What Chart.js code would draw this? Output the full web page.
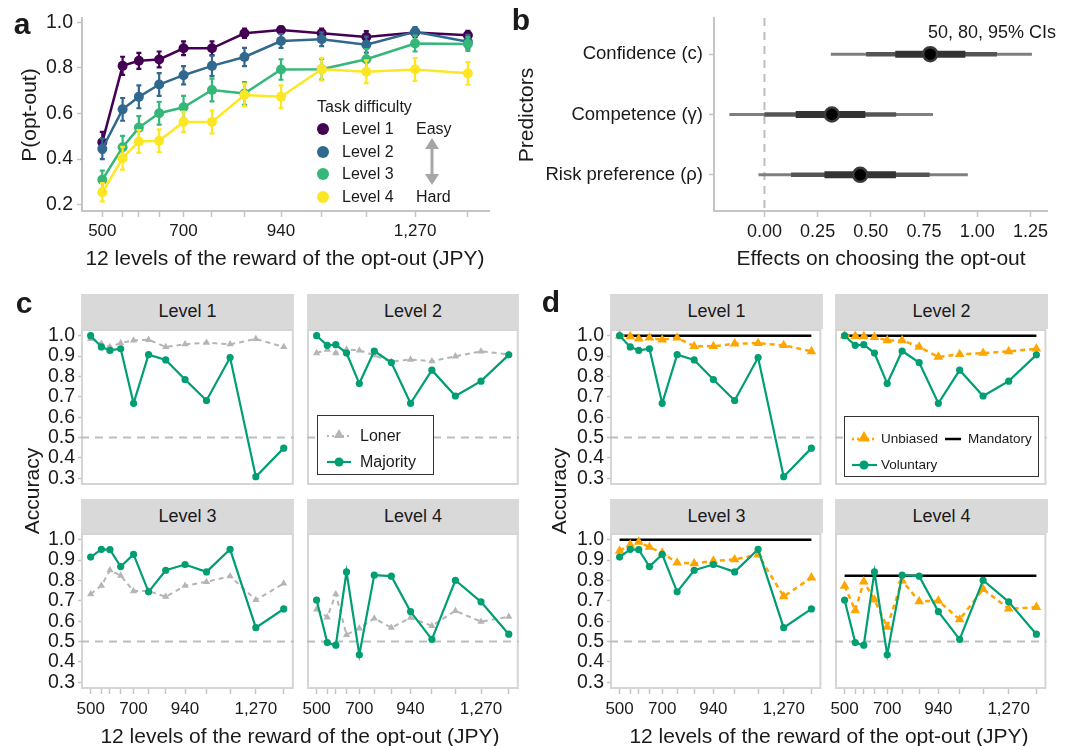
<!DOCTYPE html>
<html>
<head>
<meta charset="utf-8">
<script src="https://cdn.jsdelivr.net/npm/chart.js@4.4.1/dist/chart.umd.min.js"></script>
<style>
  body { margin: 0; background: #fff; }
  #fig { position: relative; width: 1073px; height: 746px; overflow: hidden;
         font-family: 'Liberation Sans', Arial, Helvetica, sans-serif; color: #1a1a1a; }
  #fig canvas { position: absolute; }
  #fig svg { position: absolute; left: 0; top: 0; }
  .t { position: absolute; white-space: nowrap; line-height: 1; }
  .strip { position: absolute; background: #d9d9d9; font-size: 18px; display: flex;
           align-items: center; justify-content: center; }
</style>
</head>
<body>
<div id="fig"></div>
<script>
// ---- data ----
const rewards = [500, 550, 590, 640, 700, 770, 850, 940, 1040, 1150, 1270, 1400];
const rewardLabels = [500, 700, 940, 1270];
const levels = ['Level 1', 'Level 2', 'Level 3', 'Level 4'];
const levelColors = ['#440154', '#31688E', '#35B779', '#FDE725'];

// panel a: P(opt-out) by task difficulty
const optOut1 = [0.474, 0.809, 0.831, 0.837, 0.886, 0.886, 0.952, 0.966, 0.952, 0.936, 0.955, 0.943];
const optOut2 = [0.445, 0.618, 0.673, 0.727, 0.768, 0.809, 0.848, 0.918, 0.926, 0.902, 0.959, 0.915];
const optOut3 = [0.309, 0.452, 0.538, 0.601, 0.627, 0.703, 0.688, 0.793, 0.794, 0.838, 0.907, 0.905];
const optOut4 = [0.254, 0.404, 0.477, 0.480, 0.563, 0.563, 0.681, 0.673, 0.794, 0.783, 0.793, 0.776];
const optOutErr1 = [0.045, 0.04, 0.035, 0.035, 0.03, 0.03, 0.02, 0.015, 0.02, 0.025, 0.02, 0.02];
const optOutErr2 = [0.045, 0.05, 0.05, 0.05, 0.04, 0.045, 0.04, 0.03, 0.03, 0.035, 0.02, 0.03];
const optOutErr3 = [0.04, 0.05, 0.05, 0.05, 0.05, 0.05, 0.05, 0.045, 0.045, 0.045, 0.035, 0.03];
const optOutErr4 = [0.04, 0.05, 0.05, 0.05, 0.045, 0.05, 0.05, 0.05, 0.05, 0.05, 0.05, 0.05];
const optOutTicks = [0.2, 0.4, 0.6, 0.8, 1.0];

// panel b: posterior effects with 50/80/95% intervals
const predictors = ['Confidence (c)', 'Competence (\u03b3)', 'Risk preference (\u03c1)'];
const effectMedian = [0.779, 0.317, 0.45];
const ci50Low = [0.615, 0.147, 0.282];
const ci50High = [0.944, 0.474, 0.618];
const ci80Low = [0.478, 0.0, 0.125];
const ci80High = [1.093, 0.619, 0.776];
const ci95Low = [0.312, -0.165, -0.028];
const ci95High = [1.257, 0.792, 0.956];
const effectTicks = [0, 0.25, 0.5, 0.75, 1.0, 1.25];

// panels c, d: accuracy
const majority = [
  [1.0, 0.945, 0.928, 0.936, 0.668, 0.907, 0.881, 0.785, 0.682, 0.893, 0.308, 0.448],
  [1.0, 0.953, 0.956, 0.915, 0.765, 0.925, 0.868, 0.668, 0.831, 0.704, 0.777, 0.906],
  [0.915, 0.953, 0.951, 0.868, 0.928, 0.744, 0.850, 0.878, 0.842, 0.953, 0.568, 0.660],
  [0.704, 0.495, 0.482, 0.842, 0.435, 0.826, 0.821, 0.647, 0.511, 0.801, 0.695, 0.536]
];
const loner = [
  [0.985, 0.961, 0.945, 0.964, 0.977, 0.980, 0.945, 0.958, 0.966, 0.958, 0.984, 0.945],
  [0.915, 0.932, 0.915, 0.933, 0.928, 0.904, 0.873, 0.883, 0.875, 0.899, 0.923, 0.909],
  [0.733, 0.774, 0.850, 0.824, 0.748, 0.748, 0.720, 0.774, 0.793, 0.821, 0.704, 0.785],
  [0.658, 0.619, 0.733, 0.533, 0.565, 0.614, 0.568, 0.617, 0.577, 0.651, 0.598, 0.622]
];
const voluntary = majority;
const unbiased = [
  [1.0, 0.997, 0.985, 0.990, 0.980, 0.990, 0.948, 0.948, 0.961, 0.963, 0.953, 0.923],
  [1.0, 0.998, 0.997, 0.993, 0.977, 0.977, 0.945, 0.896, 0.909, 0.915, 0.923, 0.936],
  [0.945, 0.976, 0.989, 0.964, 0.935, 0.887, 0.883, 0.896, 0.903, 0.927, 0.721, 0.814],
  [0.773, 0.653, 0.794, 0.705, 0.572, 0.799, 0.697, 0.700, 0.608, 0.757, 0.661, 0.669]
];
const mandatory = [1.0, 1.0, 1.0, 0.823];
const accTicks = [0.3, 0.4, 0.5, 0.6, 0.7, 0.8, 0.9, 1.0];
const chance = 0.5;

const GREEN = '#009E73', ORANGE = '#FFA500', LONER = '#b5b5b5', AXIS = '#c4c4c4';

// ---- helpers ----
const fig = document.getElementById('fig');
Chart.defaults.font.family = "'Liberation Sans', Arial, Helvetica, sans-serif";
Chart.defaults.color = '#1a1a1a';

function text(str, x, y, o) {
  o = o || {};
  const d = document.createElement('div');
  d.className = 't';
  d.textContent = str;
  d.style.left = x + 'px';
  d.style.top = y + 'px';
  d.style.fontSize = (o.size || 16) + 'px';
  if (o.bold) d.style.fontWeight = 'bold';
  let tr = o.anchor === 'left' ? 'translate(0,-50%)' : 'translate(-50%,-50%)';
  if (o.rot) tr += ' rotate(-90deg)';
  d.style.transform = tr;
  fig.appendChild(d);
}

function strip(label, l, t, r, b) {
  const d = document.createElement('div');
  d.className = 'strip';
  d.textContent = label;
  Object.assign(d.style, { left: l + 'px', top: t + 'px', width: (r - l) + 'px', height: (b - t) + 'px' });
  fig.appendChild(d);
}

// area = [left, top, right, bottom] of the plot panel; m = [left, top, right, bottom] margins
function addChart(area, m, cfg) {
  const cv = document.createElement('canvas');
  const w = area[2] - area[0] + m[0] + m[2];
  const h = area[3] - area[1] + m[1] + m[3];
  cv.width = w; cv.height = h;
  Object.assign(cv.style, { left: (area[0] - m[0]) + 'px', top: (area[1] - m[1]) + 'px', width: w + 'px', height: h + 'px' });
  fig.appendChild(cv);
  const o = cfg.options;
  o.responsive = false; o.animation = false; o.devicePixelRatio = 1; o.events = [];
  o.layout = { padding: { left: 0, top: m[1], right: m[2], bottom: 0 } };
  o.scales.y.afterFit = s => { s.width = m[0]; };
  o.scales.x.afterFit = s => { s.height = m[3]; };
  o.plugins = Object.assign({ legend: { display: false }, tooltip: { enabled: false } }, o.plugins);
  return new Chart(cv, cfg);
}

// dashed reference line through the scale
const refLine = {
  id: 'refLine',
  beforeDatasetsDraw(chart, args, opts) {
    if (opts.value === undefined) return;
    const { ctx, chartArea: a } = chart;
    ctx.save();
    ctx.strokeStyle = '#bdbdbd'; ctx.lineWidth = 2; ctx.setLineDash([8, 6]);
    ctx.beginPath();
    if (opts.axis === 'x') {
      const px = chart.scales.x.getPixelForValue(opts.value);
      ctx.moveTo(px, a.top); ctx.lineTo(px, a.bottom);
    } else {
      const py = chart.scales.y.getPixelForValue(opts.value);
      ctx.moveTo(a.left, py); ctx.lineTo(a.right, py);
    }
    ctx.stroke();
    ctx.restore();
  }
};

// facet panel frame
const frame = {
  id: 'frame',
  beforeDatasetsDraw(chart, args, opts) {
    if (!opts.on) return;
    const { ctx, chartArea: a } = chart;
    ctx.save();
    ctx.strokeStyle = '#d5d5d5'; ctx.lineWidth = 2;
    ctx.strokeRect(a.left + 1, a.top + 1, a.right - a.left - 2, a.bottom - a.top - 2);
    ctx.restore();
  }
};

// error bars, drawn just before their own dataset
const errBars = {
  id: 'errBars',
  beforeDatasetDraw(chart, args) {
    const ds = chart.data.datasets[args.index];
    if (!ds.err) return;
    const { ctx } = chart;
    const xs = chart.scales.x, ys = chart.scales.y;
    ctx.save();
    ctx.strokeStyle = ds.borderColor; ctx.lineWidth = 2.2;
    ds.data.forEach((p, i) => {
      const px = xs.getPixelForValue(p.x);
      const lo = ys.getPixelForValue(p.y - ds.err[i]), hi = ys.getPixelForValue(p.y + ds.err[i]);
      ctx.beginPath();
      ctx.moveTo(px, lo); ctx.lineTo(px, hi);
      ctx.moveTo(px - 2.5, lo); ctx.lineTo(px + 2.5, lo);
      ctx.moveTo(px - 2.5, hi); ctx.lineTo(px + 2.5, hi);
      ctx.stroke();
    });
    ctx.restore();
  }
};

function rewardAxis(min, max, show, tickLen, pad) {
  return {
    type: 'linear', min: min, max: max,
    afterBuildTicks: s => { s.ticks = rewards.map(v => ({ value: v })); },
    ticks: { display: show, autoSkip: false, maxRotation: 0, padding: pad, font: { size: 17 },
             callback: v => rewardLabels.includes(v) ? v.toLocaleString('en-US') : '' },
    grid: { display: show, drawOnChartArea: false, drawTicks: true, tickLength: tickLen, tickColor: AXIS, tickWidth: 1.5 },
    border: { display: false }
  };
}

function accAxis(show) {
  return {
    type: 'linear', min: 0.267, max: 1.033,
    afterBuildTicks: s => { s.ticks = accTicks.map(v => ({ value: v })); },
    ticks: { display: show, autoSkip: false, padding: 3, font: { size: 19.5 }, callback: v => v.toFixed(1) },
    grid: { display: show, drawOnChartArea: false, drawTicks: true, tickLength: 3, tickColor: AXIS, tickWidth: 1.5 },
    border: { display: false }
  };
}

const pts = arr => arr.map((v, i) => ({ x: rewards[i], y: v }));

// ---- panel a ----
const optOut = [optOut1, optOut2, optOut3, optOut4];
const optOutErr = [optOutErr1, optOutErr2, optOutErr3, optOutErr4];
const aAxisX = rewardAxis(450, 1452, true, 6, 4);
aAxisX.border = { display: true, color: AXIS, width: 2 };
addChart([82, 18, 489, 211], [82, 18, 11, 60], {
  type: 'line',
  data: {
    datasets: levels.map((lv, i) => ({
      label: lv, data: pts(optOut[i]), err: optOutErr[i], order: 3 - i,
      borderColor: levelColors[i], backgroundColor: levelColors[i], borderWidth: 2.5,
      pointRadius: 5, pointBorderWidth: 0, pointBackgroundColor: levelColors[i]
    }))
  },
  options: {
    scales: {
      x: aAxisX,
      y: {
        type: 'linear', min: 0.172, max: 1.019,
        afterBuildTicks: s => { s.ticks = optOutTicks.map(v => ({ value: v })); },
        ticks: { autoSkip: false, padding: 4, font: { size: 19.5 }, callback: v => v.toFixed(1) },
        grid: { drawOnChartArea: false, tickLength: 5, tickColor: AXIS, tickWidth: 1.5 },
        border: { display: true, color: AXIS, width: 2 }
      }
    }
  },
  plugins: [errBars]
});

// ---- panel b ----
const bSets = [];
predictors.forEach((p, i) => {
  const y = i + 1;
  bSets.push({ data: [{ x: ci95Low[i], y }, { x: ci95High[i], y }], borderColor: '#7f7f7f', borderWidth: 3, pointRadius: 0, order: 3 });
  bSets.push({ data: [{ x: ci80Low[i], y }, { x: ci80High[i], y }], borderColor: '#555555', borderWidth: 4.5, pointRadius: 0, order: 2 });
  bSets.push({ data: [{ x: ci50Low[i], y }, { x: ci50High[i], y }], borderColor: '#333333', borderWidth: 7, pointRadius: 0, order: 1 });
});
bSets.push({
  data: effectMedian.map((x, i) => ({ x, y: i + 1 })), showLine: false, order: 0,
  pointRadius: 7, pointBackgroundColor: '#000', pointBorderColor: '#3a3a3a', pointBorderWidth: 2.5
});
addChart([714, 18, 1047, 211], [190, 18, 20, 60], {
  type: 'line',
  data: { datasets: bSets },
  options: {
    scales: {
      x: {
        type: 'linear', min: -0.237, max: 1.328,
        afterBuildTicks: s => { s.ticks = effectTicks.map(v => ({ value: v })); },
        ticks: { autoSkip: false, padding: 4, font: { size: 18 }, maxRotation: 0, callback: v => v.toFixed(2) },
        grid: { drawOnChartArea: false, tickLength: 6, tickColor: AXIS, tickWidth: 1.5 },
        border: { display: true, color: AXIS, width: 2 }
      },
      y: {
        type: 'linear', reverse: true, min: 0.4, max: 3.6,
        afterBuildTicks: s => { s.ticks = predictors.map((p, i) => ({ value: i + 1 })); },
        ticks: { autoSkip: false, padding: 6, font: { size: 18.5 }, callback: v => predictors[v - 1] },
        grid: { drawOnChartArea: false, tickLength: 5, tickColor: AXIS, tickWidth: 1.5 },
        border: { display: true, color: AXIS, width: 2 }
      }
    },
    plugins: { refLine: { axis: 'x', value: 0 } }
  },
  plugins: [refLine]
});

// ---- panels c, d (facets) ----
const colsC = [[81, 294], [307, 519]];
const colsD = [[610, 823], [835, 1048]];
const rows = [[329, 485], [533, 689]];
const stripRows = [[294, 329], [499, 533]];

function facet(cols, k, datasets) {
  const c = k % 2, r = Math.floor(k / 2);
  const area = [cols[c][0], rows[r][0], cols[c][1], rows[r][1]];
  strip(levels[k], cols[c][0], stripRows[r][0], cols[c][1], stripRows[r][1]);
  addChart(area, [c === 0 ? 60 : 12, 18, 4, r === 1 ? 40 : 18], {
    type: 'line',
    data: { datasets: datasets },
    options: {
      scales: { x: rewardAxis(455, 1447, r === 1, 5, 5), y: accAxis(c === 0) },
      plugins: { refLine: { axis: 'y', value: chance }, frame: { on: true } }
    },
    plugins: [frame, refLine]
  });
}

const lineSet = (label, vals) => ({
  label, data: pts(vals), order: 0, borderColor: GREEN, backgroundColor: GREEN, borderWidth: 2.2,
  pointRadius: 3.6, pointBorderWidth: 0, pointBackgroundColor: GREEN
});

levels.forEach((lv, k) => {
  facet(colsC, k, [
    lineSet('Majority', majority[k]),
    { label: 'Loner', data: pts(loner[k]), order: 1, borderColor: LONER, borderWidth: 2, borderDash: [5, 4],
      pointStyle: 'triangle', pointRadius: 4.2, pointBorderWidth: 0, pointBackgroundColor: LONER }
  ]);
  facet(colsD, k, [
    lineSet('Voluntary', voluntary[k]),
    { label: 'Unbiased', data: pts(unbiased[k]), order: 1, borderColor: ORANGE, borderWidth: 2.5, borderDash: [5, 4],
      pointStyle: 'triangle', pointRadius: 5.6, pointBorderWidth: 0, pointBackgroundColor: ORANGE },
    { label: 'Mandatory', data: [{ x: rewards[0], y: mandatory[k] }, { x: rewards[rewards.length - 1], y: mandatory[k] }],
      order: 2, borderColor: '#000', borderWidth: 2.5, pointRadius: 0 }
  ]);
});

// ---- legends (symbols) ----
const svgNS = 'http://www.w3.org/2000/svg';
const svg = document.createElementNS(svgNS, 'svg');
svg.setAttribute('width', 1073); svg.setAttribute('height', 746);
fig.appendChild(svg);
function el(tag, attrs) {
  const e = document.createElementNS(svgNS, tag);
  for (const k in attrs) e.setAttribute(k, attrs[k]);
  svg.appendChild(e);
  return e;
}
const tri = (cx, cy, r, fill) => el('polygon', {
  points: [cx, cy - r, cx + r * 0.866, cy + r * 0.5, cx - r * 0.866, cy + r * 0.5].join(' ')
    .replace(/(\S+) (\S+)/g, '$1,$2'), fill
});

// panel a legend
const legAY = [129, 152, 174, 197];
levels.forEach((lv, i) => {
  el('circle', { cx: 323, cy: legAY[i], r: 6, fill: levelColors[i] });
  text(lv, 342, legAY[i], { anchor: 'left', size: 16 });
});
el('line', { x1: 432, y1: 145, x2: 432, y2: 178, stroke: '#a6a6a6', 'stroke-width': 3 });
el('polygon', { points: '432,138 425,149 439,149', fill: '#a6a6a6' });
el('polygon', { points: '432,185 425,174 439,174', fill: '#a6a6a6' });
text('Task difficulty', 317, 107, { anchor: 'left', size: 16 });
text('Easy', 416, 129, { anchor: 'left', size: 16 });
text('Hard', 416, 197, { anchor: 'left', size: 16 });

// panel c legend
el('rect', { x: 317.5, y: 415.5, width: 116, height: 59, fill: '#fff', stroke: '#333', 'stroke-width': 1 });
el('line', { x1: 327, y1: 436, x2: 351, y2: 436, stroke: LONER, 'stroke-width': 2, 'stroke-dasharray': '2 3' });
tri(339, 435, 6, LONER);
el('line', { x1: 327, y1: 462, x2: 351, y2: 462, stroke: GREEN, 'stroke-width': 2.2 });
el('circle', { cx: 339, cy: 462, r: 4.5, fill: GREEN });
text('Loner', 360, 436, { anchor: 'left', size: 16 });
text('Majority', 360, 462, { anchor: 'left', size: 16 });

// panel d legend
el('rect', { x: 844.5, y: 416.5, width: 194, height: 60, fill: '#fff', stroke: '#333', 'stroke-width': 1 });
el('line', { x1: 852, y1: 439, x2: 877, y2: 439, stroke: ORANGE, 'stroke-width': 2.5, 'stroke-dasharray': '2 3' });
tri(864, 438, 7, ORANGE);
el('line', { x1: 945, y1: 439, x2: 961, y2: 439, stroke: '#000', 'stroke-width': 2.5 });
el('line', { x1: 852, y1: 465, x2: 877, y2: 465, stroke: GREEN, 'stroke-width': 2.2 });
el('circle', { cx: 864, cy: 465, r: 4.5, fill: GREEN });
text('Unbiased', 881, 439, { anchor: 'left', size: 13.5 });
text('Mandatory', 968, 439, { anchor: 'left', size: 13.5 });
text('Voluntary', 881, 465, { anchor: 'left', size: 13.5 });

// ---- titles and panel letters ----
text('a', 22, 24, { bold: true, size: 30 });
text('b', 521, 20, { bold: true, size: 30 });
text('c', 24, 303, { bold: true, size: 30 });
text('d', 551, 302, { bold: true, size: 30 });
text('P(opt-out)', 28, 115, { size: 21, rot: true });
text('Predictors', 525, 115, { size: 21, rot: true });
text('Accuracy', 31, 491, { size: 21, rot: true });
text('Accuracy', 558, 491, { size: 21, rot: true });
text('12 levels of the reward of the opt-out (JPY)', 285, 257, { size: 21 });
text('Effects on choosing the opt-out', 881, 257, { size: 21 });
text('12 levels of the reward of the opt-out (JPY)', 300, 735, { size: 21 });
text('12 levels of the reward of the opt-out (JPY)', 829, 735, { size: 21 });
text('50, 80, 95% CIs', 992, 32, { size: 18 });
</script>
</body>
</html>
